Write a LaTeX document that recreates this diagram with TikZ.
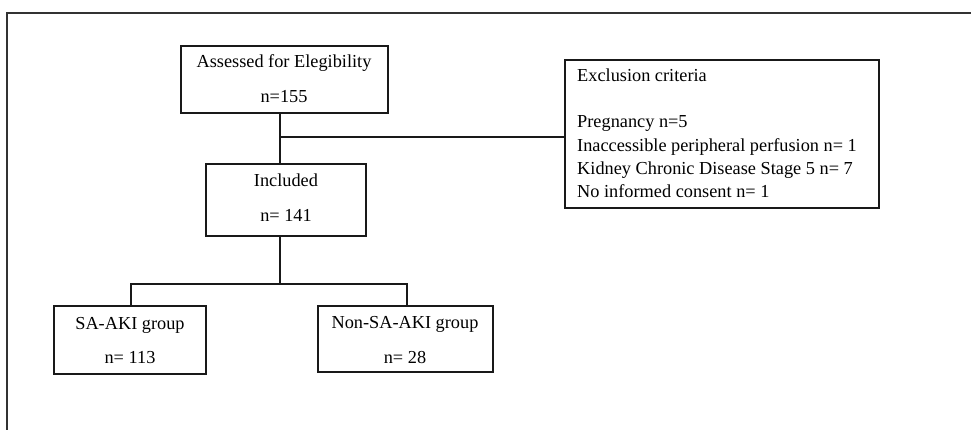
\documentclass[tikz,border=0pt]{standalone}
\usepackage{fontspec}
\setmainfont{Liberation Serif}
\begin{document}
\begin{tikzpicture}[x=1pt,y=-1pt,
  box/.style={draw=black!90,line width=1.1pt,inner sep=0pt,rectangle},
  conn/.style={draw=black!90,line width=1.1pt},
  frame/.style={draw=black!80,line width=1.3pt},
  txt/.style={inner sep=0pt,font=\fontsize{18.3}{23.5}\selectfont,text=black}]
\useasboundingbox (0,0) rectangle (971,430);
% frame
\coordinate (ftl) at (7,13);
\coordinate (ftr) at (971,13);
\coordinate (fbl) at (7,430);
\draw[frame] (fbl) -- (ftl) -- (ftr);
% boxes
\node[box,minimum width=207pt,minimum height=67pt] (assess) at (284.5,79.5) {};
\node[box,minimum width=160pt,minimum height=72pt] (inc) at (286,200) {};
\node[box,minimum width=314pt,minimum height=148pt] (excl) at (722,134) {};
\node[box,minimum width=152pt,minimum height=68pt] (sa) at (130,340) {};
\node[box,minimum width=175pt,minimum height=66pt] (non) at (405.5,339) {};
% texts
\node[txt,anchor=base] (t1) at (284,68) {Assessed for Elegibility};
\node[txt,anchor=base] (t2) at (284,103) {n=155};
\node[txt,anchor=base] (t3) at (286,187) {Included};
\node[txt,anchor=base] (t4) at (286,222) {n= 141};
\node[txt,anchor=base] (t5) at (130,329) {SA-AKI group};
\node[txt,anchor=base] (t6) at (130,363) {n= 113};
\node[txt,anchor=base] (t7) at (405,328) {Non-SA-AKI group};
\node[txt,anchor=base] (t8) at (405,363) {n= 28};
\node[txt,anchor=base west] (e1) at (577,82) {Exclusion criteria};
\node[txt,anchor=base west] (e2) at (577,128) {Pregnancy n=5};
\node[txt,anchor=base west] (e3) at (577,152) {Inaccessible peripheral perfusion n= 1};
\node[txt,anchor=base west] (e4) at (577,175) {Kidney Chronic Disease Stage 5 n= 7};
\node[txt,anchor=base west] (e5) at (577,198) {No informed consent n= 1};
% connectors
\coordinate (j1) at (280,137);
\coordinate (j2) at (280,284);
\coordinate (b1) at (131,284);
\coordinate (b2) at (407,284);
\draw[conn] (j1 |- assess.south) -- (j1 |- inc.north);
\draw[conn] (j1) -- (j1 -| excl.west);
\draw[conn] (j2 |- inc.south) -- (j2);
\draw[conn] (b1 |- sa.north) -- (b1) -- (b2) -- (b2 |- non.north);
\end{tikzpicture}
\end{document}
